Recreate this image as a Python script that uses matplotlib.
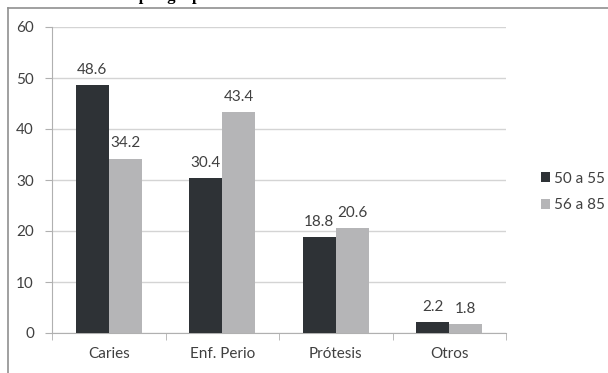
import numpy as np
import matplotlib.pyplot as plt
from matplotlib.lines import Line2D

# Datos por tipo de lesión y grupo de edad
categorias = ['Caries', 'Enf. Perio', 'Prótesis', 'Otros']
grupo_50_55 = [48.6, 30.4, 18.8, 2.2]
grupo_56_85 = [34.2, 43.4, 20.6, 1.8]
series = ['50 a 55', '56 a 85']

plt.rcParams['font.family'] = ['Lato', 'DejaVu Sans']
texto = '#404040'
fs = 11

fig = plt.figure(figsize=(6.08, 3.73), dpi=100)
ax = fig.add_axes([52 / 608, 1 - 333 / 373, (506 - 52) / 608, (333 - 27) / 373])

x = np.arange(len(categorias))
ancho = 0.29
b1 = ax.bar(x - ancho / 2, grupo_50_55, ancho, color='#2e3236', label=series[0], zorder=3)
b2 = ax.bar(x + ancho / 2, grupo_56_85, ancho, color='#b5b5b7', label=series[1], zorder=3)

# Etiquetas de valor encima de cada barra
for barras in (b1, b2):
    for b in barras:
        ax.text(b.get_x() + b.get_width() / 2, b.get_height() + 1.6, f'{b.get_height():.1f}',
                ha='center', va='bottom', fontsize=fs, color=texto)

ax.set_xlim(-0.5, len(categorias) - 0.5)
ax.set_ylim(0, 60)
ax.set_yticks(range(0, 61, 10))
ax.set_xticks(x)
ax.set_xticklabels(categorias)
ax.set_xticks(np.arange(len(categorias) + 1) - 0.5, minor=True)
ax.tick_params(axis='x', which='major', length=0, pad=10, labelsize=fs, labelcolor=texto)
ax.tick_params(axis='x', which='minor', length=5, color='#b0b0b0', direction='out')
ax.tick_params(axis='y', length=5, color='#b0b0b0', labelsize=fs, labelcolor=texto, pad=8)
ax.yaxis.grid(True, color='#d4d4d4', linewidth=1, zorder=0)

for lado in ('top', 'right'):
    ax.spines[lado].set_visible(False)
for lado in ('left', 'bottom'):
    ax.spines[lado].set_color('#b0b0b0')

leg = ax.legend(loc='center left', bbox_to_anchor=(533 / 608, 1 - 192 / 373),
                bbox_transform=fig.transFigure, frameon=False, borderpad=0,
                fontsize=fs, handlelength=0.6, handleheight=0.6, handletextpad=0.25,
                labelspacing=0.85)
for t in leg.get_texts():
    t.set_color(texto)

# Marco del gráfico y título cortado en la parte superior
fig.add_artist(Line2D([8 / 608, 1], [1 - 8 / 373, 1 - 8 / 373], transform=fig.transFigure,
                      color='#909090', linewidth=1.2))
fig.add_artist(Line2D([8 / 608, 8 / 608], [0, 1 - 8 / 373], transform=fig.transFigure,
                      color='#909090', linewidth=1.2))
fig.text(74 / 608, 1 + 0.5 / 373, 'Lesiones por grupo de edad', fontsize=12, fontweight='bold',
         family='Liberation Serif', color='black', va='baseline', ha='left')

fig.savefig('out.png', dpi=100)
